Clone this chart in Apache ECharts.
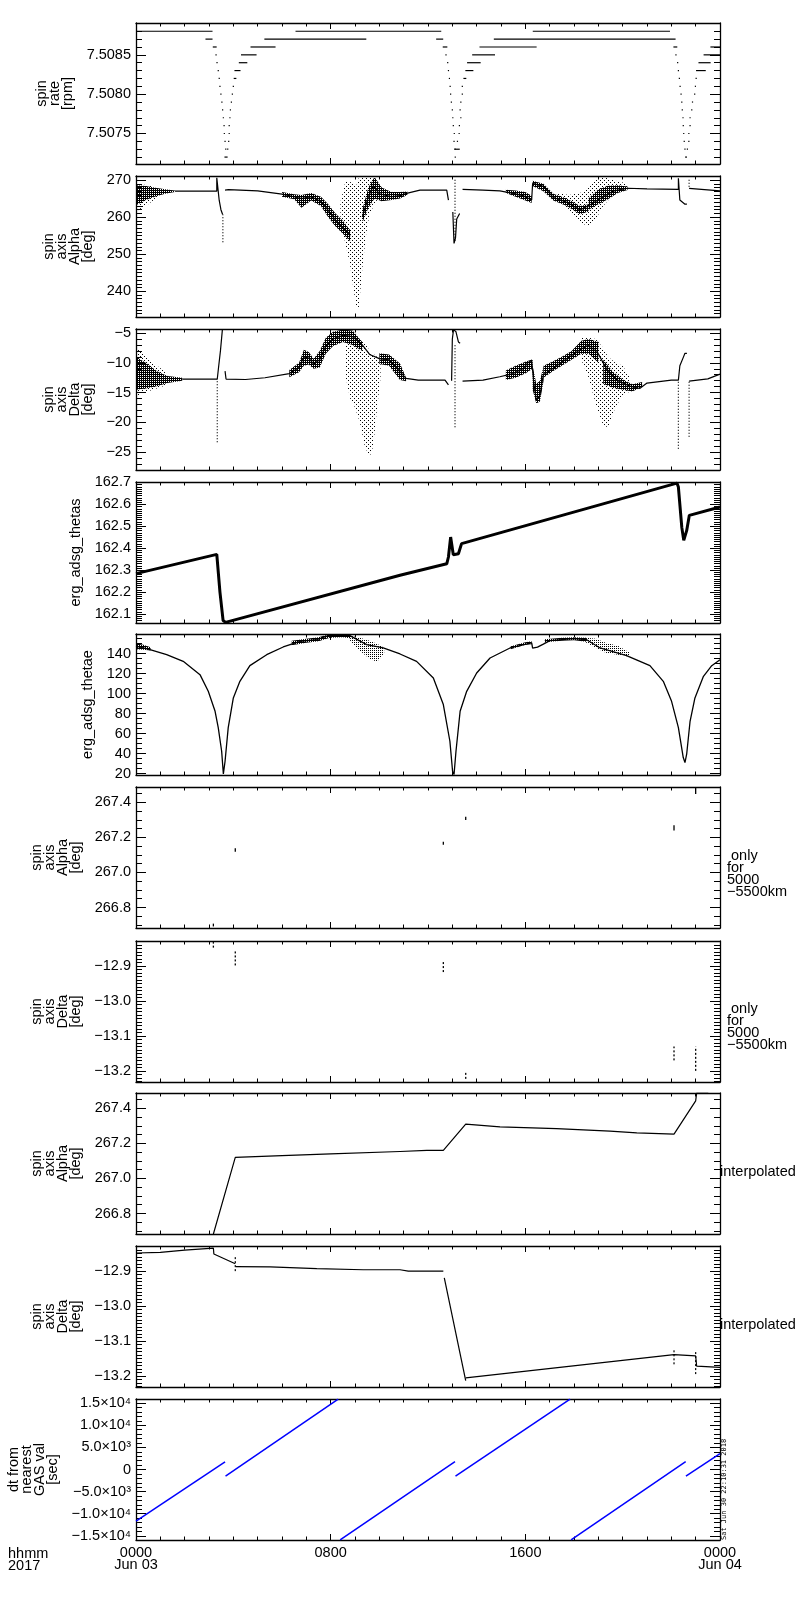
<!DOCTYPE html>
<html>
<head>
<meta charset="utf-8">
<title>ERG spin axis summary</title>
<script src="https://cdn.jsdelivr.net/npm/echarts@6/dist/echarts.min.js"></script>
<style>
  html, body { margin: 0; padding: 0; background: #fff; }
  #main { width: 800px; height: 1600px; }
</style>
</head>
<body>
<div id="main"></div>
<script>
'use strict';
// x values are hours from 2017-06-03 0000
var hourLabels = { 0: '0000\nJun 03', 8: '0800', 16: '1600', 24: '0000\nJun 04' };

// panel 1: spin rate steps [t0, t1, rpm]
var rateSteps = [
  [0.00, 3.12, 7.5088], [2.88, 3.12, 7.5087], [3.18, 3.29, 7.5086], [3.29, 3.29, 7.5085],
  [3.33, 3.33, 7.5084], [3.38, 3.38, 7.5083], [3.42, 3.42, 7.5082], [3.45, 3.45, 7.5081],
  [3.49, 3.49, 7.5080], [3.53, 3.53, 7.5079], [3.56, 3.56, 7.5078], [3.59, 3.59, 7.5077],
  [3.62, 3.62, 7.5076], [3.63, 3.63, 7.5075], [3.66, 3.66, 7.5074], [3.69, 3.69, 7.5073],
  [3.66, 3.74, 7.5072],
  [3.77, 3.77, 7.5073], [3.81, 3.81, 7.5074], [3.83, 3.83, 7.5075], [3.83, 3.83, 7.5076],
  [3.86, 3.86, 7.5077], [3.88, 3.88, 7.5078], [3.92, 3.92, 7.5079], [3.96, 3.96, 7.5080],
  [4.00, 4.00, 7.5081], [4.04, 4.10, 7.5082], [4.07, 4.27, 7.5083], [4.25, 4.55, 7.5084],
  [4.34, 4.93, 7.5085], [4.73, 5.71, 7.5086], [5.30, 9.44, 7.5087], [6.58, 12.52, 7.5088],
  [12.36, 12.60, 7.5087], [12.63, 12.77, 7.5086], [12.74, 12.74, 7.5085], [12.81, 12.81, 7.5084],
  [12.84, 12.84, 7.5083], [12.88, 12.88, 7.5082], [12.91, 12.91, 7.5081], [12.93, 12.93, 7.5080],
  [12.96, 12.96, 7.5079], [13.00, 13.00, 7.5078], [13.02, 13.02, 7.5077], [13.04, 13.04, 7.5076],
  [13.08, 13.08, 7.5075], [13.07, 13.07, 7.5074], [13.11, 13.11, 7.5073], [13.12, 13.12, 7.5072],
  [13.11, 13.28, 7.5073], [13.21, 13.21, 7.5074], [13.28, 13.28, 7.5075], [13.29, 13.29, 7.5076],
  [13.35, 13.35, 7.5077], [13.32, 13.32, 7.5078], [13.35, 13.35, 7.5079], [13.41, 13.41, 7.5080],
  [13.41, 13.41, 7.5081], [13.48, 13.55, 7.5082], [13.56, 13.84, 7.5083], [13.63, 14.14, 7.5084],
  [13.84, 14.73, 7.5085], [14.14, 16.44, 7.5086], [14.73, 22.15, 7.5087], [16.33, 21.92, 7.5088],
  [22.11, 22.22, 7.5086], [22.19, 22.19, 7.5085], [22.26, 22.26, 7.5084], [22.29, 22.29, 7.5083],
  [22.33, 22.33, 7.5082], [22.36, 22.36, 7.5081], [22.40, 22.40, 7.5080], [22.43, 22.43, 7.5079],
  [22.45, 22.45, 7.5078], [22.48, 22.48, 7.5077], [22.49, 22.49, 7.5076], [22.51, 22.51, 7.5075],
  [22.53, 22.53, 7.5074], [22.56, 22.56, 7.5073], [22.59, 22.62, 7.5072],
  [22.66, 22.66, 7.5073], [22.72, 22.72, 7.5074], [22.72, 22.72, 7.5075], [22.77, 22.77, 7.5076],
  [22.77, 22.77, 7.5077], [22.84, 22.84, 7.5078], [22.87, 22.87, 7.5079], [22.96, 22.96, 7.5080],
  [22.99, 22.99, 7.5081], [23.02, 23.02, 7.5082], [23.04, 23.39, 7.5083], [23.14, 23.59, 7.5084],
  [23.35, 24.00, 7.5085], [23.63, 24.00, 7.5086]
];

// panel 2: spin axis alpha
var alphaSegs = [
  [[1.6, 267.0], [3.32, 267.0], [3.32, 270.6], [3.42, 264.5], [3.49, 262.0], [3.56, 260.7]],
  [[3.66, 267.3], [3.72, 267.6], [3.8, 267.4], [5.0, 267.1], [6.0, 266.2], [6.5, 265.5], [6.8, 265.0],
   [7.2, 265.5], [7.6, 264.2], [7.9, 261.8], [8.2, 259.2], [8.5, 257.2], [8.8, 255.0]],
  [[9.3, 260.0], [9.55, 265.5], [9.75, 268.5], [10.0, 266.3], [10.5, 265.5], [10.85, 265.8],
   [11.12, 266.4], [11.67, 267.3], [12.77, 267.3], [12.84, 264.6]],
  [[13.02, 261.4], [13.07, 252.9], [13.13, 254.4], [13.18, 259.5], [13.30, 261.0]],
  [[13.42, 267.5], [14.26, 267.3], [14.95, 267.1], [15.5, 266.4], [15.9, 265.8], [16.26, 264.6],
   [16.3, 269.1], [16.74, 268.3], [17.15, 265.3], [17.7, 264.0], [18.25, 261.9], [18.7, 263.5],
   [19.2, 265.5], [19.6, 267.0], [20.2, 267.8], [21.0, 267.6], [22.29, 267.5], [22.29, 270.5],
   [22.35, 264.6], [22.56, 263.5], [22.64, 263.5]],
  [[22.73, 267.75], [24.0, 267.1]]
];
var alphaDrops = [[3.57, 253.2, 260.7], [13.11, 253.6, 270.5], [22.73, 268.2, 270.5]];
var alphaDense = [
  { t: [0, 0.4, 0.8, 1.2, 1.6], lo: [263.2, 264.6, 265.6, 266.3, 266.8], hi: [268.6, 268.4, 267.9, 267.5, 267.2] },
  { t: [6.0, 6.5, 6.8, 7.2, 7.6, 7.9, 8.2, 8.5, 8.8], lo: [265.5, 264.8, 262.5, 264.5, 263.0, 260.0, 257.5, 255.5, 253.5],
    hi: [266.8, 266.2, 266.0, 266.5, 265.5, 263.5, 261.0, 259.0, 256.5] },
  { t: [9.3, 9.55, 9.8, 10.1, 10.5, 10.85, 11.15], lo: [258.5, 262.5, 265.0, 264.3, 264.6, 265.0, 266.0],
    hi: [262.0, 268.0, 270.8, 268.0, 266.8, 266.8, 266.9] },
  { t: [15.2, 15.6, 16.0, 16.26], lo: [266.5, 265.5, 264.5, 263.8], hi: [267.4, 267.2, 266.8, 265.8] },
  { t: [16.3, 16.74, 17.15, 17.7, 18.25, 18.6], lo: [268.4, 267.0, 264.5, 263.0, 260.8, 261.5],
    hi: [269.8, 269.0, 266.3, 265.0, 263.0, 263.5] },
  { t: [18.6, 19.0, 19.4, 19.8, 20.2], lo: [262.0, 263.5, 264.8, 266.5, 267.3], hi: [265.0, 267.5, 268.5, 268.6, 268.3] }
];
var alphaSparse = [
  { t: [0, 0.5, 1.0], lo: [261.5, 263.5, 266.0], hi: [268.9, 268.7, 267.6] },
  { t: [8.4, 8.6, 8.8, 8.95, 9.05, 9.15, 9.3, 9.45, 9.6, 9.9], lo: [259, 253, 247, 240, 236, 235, 246, 255, 261, 264.5],
    hi: [264, 269.5, 269.5, 269, 268.5, 270.5, 271, 271, 271, 268.5] },
  { t: [17.3, 17.8, 18.25, 18.6, 18.9, 19.2, 19.6, 20.2], lo: [265.0, 262.0, 258.7, 257.4, 259.5, 263.0, 266.0, 267.5],
    hi: [266.5, 266.0, 266.5, 268.0, 270.5, 270.8, 270.0, 269.0] }
];

// panel 3: spin axis delta
var deltaSegs = [
  [[1.9, -12.72], [3.34, -12.72], [3.40, -10.5], [3.47, -8.0], [3.55, -4.44]],
  [[3.66, -11.4], [3.70, -12.72], [4.5, -12.8], [5.3, -12.5], [6.3, -11.8], [6.7, -10.8], [6.9, -9.0],
   [7.1, -9.2], [7.3, -10.2], [7.55, -9.5], [7.8, -7.2], [8.1, -6.0], [8.5, -5.4], [8.9, -5.6],
   [9.3, -7.0], [9.6, -8.6], [10.0, -9.3], [10.4, -9.5], [10.85, -11.5], [11.1, -12.6], [11.6, -12.9],
   [12.7, -12.9], [12.84, -13.7]],
  [[12.97, -13.0], [13.0, -6.0], [13.05, -4.44], [13.15, -4.8], [13.25, -6.5], [13.32, -6.7]],
  [[13.42, -13.06], [14.26, -12.9], [14.95, -12.33], [15.5, -11.8], [15.9, -11.0], [16.1, -10.0],
   [16.26, -9.6], [16.35, -13.5], [16.45, -16.3], [16.6, -15.5], [16.74, -12.0], [17.15, -10.9],
   [17.7, -9.3], [18.25, -7.8], [18.6, -7.0], [19.0, -8.5], [19.4, -11.5], [19.8, -13.0], [20.3, -13.9],
   [20.7, -14.3], [21.0, -13.4], [22.0, -12.9], [22.29, -12.9], [22.35, -10.5], [22.5, -9.0],
   [22.56, -8.4], [22.64, -8.4]],
  [[22.73, -13.06], [23.5, -12.7], [24, -11.9]]
];
var deltaDrops = [[3.34, -23.3, -12.72], [13.11, -20.8, -6.7], [22.29, -24.4, -13.06], [22.73, -22.4, -13.06]];
var deltaDense = [
  { t: [0, 0.4, 0.9, 1.3, 1.9], lo: [-14.5, -14.3, -13.9, -13.4, -13.0], hi: [-9.0, -10.0, -11.5, -12.2, -12.5] },
  { t: [6.3, 6.7, 6.9, 7.1, 7.3, 7.55, 7.8, 8.1, 8.5, 8.9, 9.3],
    lo: [-12.4, -11.6, -10.5, -10.3, -11.0, -10.8, -8.5, -7.2, -6.5, -7.0, -8.0],
    hi: [-11.2, -10.0, -7.8, -8.2, -9.3, -8.0, -5.8, -4.8, -4.4, -4.6, -6.5] },
  { t: [10.0, 10.4, 10.85, 11.1], lo: [-10.2, -10.5, -12.9, -13.1], hi: [-8.4, -8.6, -10.1, -12.5] },
  { t: [15.2, 15.6, 16.0, 16.3], lo: [-12.9, -12.5, -11.8, -11.0], hi: [-11.3, -10.5, -9.8, -9.4] },
  { t: [16.3, 16.45, 16.6, 16.75], lo: [-14.5, -16.8, -16.5, -13.0], hi: [-10.5, -13.5, -13.0, -10.5] },
  { t: [16.75, 17.1, 17.5, 17.9, 18.3, 18.6, 19.0], lo: [-12.5, -11.5, -10.5, -9.5, -8.5, -8.5, -10.0],
    hi: [-10.5, -9.8, -9.0, -8.0, -6.3, -6.0, -6.5] },
  { t: [19.2, 19.6, 20.0, 20.4, 20.8], lo: [-13.5, -14.2, -14.5, -14.8, -14.0], hi: [-9.5, -11.5, -12.8, -13.6, -13.2] }
];
var deltaSparse = [
  { t: [0, 0.3, 0.7, 1.2], lo: [-15.6, -15.0, -14.5, -13.8], hi: [-7.5, -8.5, -10.0, -11.5] },
  { t: [8.6, 8.8, 9.0, 9.2, 9.4, 9.6, 9.75, 9.9, 10.05], lo: [-12, -16, -17.5, -20, -24, -25.8, -24, -18, -12.5],
    hi: [-5.5, -5.5, -5.5, -6, -6.5, -8, -8.5, -9, -9.5] },
  { t: [18.3, 18.6, 18.9, 19.2, 19.4, 19.7, 20.0, 20.3], lo: [-9.5, -12.5, -17, -20.5, -20.8, -17.5, -15.5, -14.8],
    hi: [-5.6, -5.8, -6.0, -7.5, -9.0, -10.0, -10.5, -12.5] }
];

// panel 4: erg_adsg_thetas
var thetasLine = [
  [0, 162.284], [3.32, 162.372], [3.45, 162.20], [3.58, 162.07], [3.68, 162.062], [10.85, 162.277],
  [12.77, 162.329], [12.84, 162.36], [12.93, 162.451], [13.04, 162.37], [13.25, 162.375],
  [13.38, 162.421], [22.23, 162.697], [22.29, 162.679], [22.43, 162.495], [22.51, 162.436],
  [22.63, 162.48], [22.74, 162.55], [24, 162.588]
];

// panel 5: erg_adsg_thetae
var thetaeLine = [
  [0, 147.5], [0.575, 144], [1.26, 139], [1.94, 132.3], [2.63, 119], [2.97, 102.3], [3.25, 82.3],
  [3.38, 66], [3.52, 42.3], [3.59, 19.5], [3.66, 32.3], [3.79, 66], [4.0, 95.7], [4.27, 112.3],
  [4.68, 128], [5.37, 139], [6.05, 146.7], [6.74, 152.3], [7.43, 154], [7.97, 158.5], [8.79, 158],
  [9.48, 149], [10.16, 145.7], [10.85, 139.7], [11.53, 132.3], [12.22, 115.7], [12.63, 89],
  [12.90, 52.3], [13.01, 22.3], [13.07, 19], [13.15, 42.3], [13.32, 82.3], [13.59, 102.3],
  [14.0, 120.7], [14.55, 135.7], [15.37, 145.7], [16.26, 150.7], [16.3, 145.5], [16.5, 146.5],
  [16.74, 149.5], [17.01, 153], [17.97, 155], [18.52, 154], [19.07, 145.7], [20.16, 138],
  [21.12, 128], [21.67, 112.3], [22.01, 92.3], [22.29, 66], [22.49, 36], [22.56, 31], [22.63, 39.3],
  [22.77, 72.3], [22.97, 95.7], [23.32, 117.3], [23.66, 128], [24, 134]
];
var thetaeDense = [
  { t: [0, 0.3, 0.6], lo: [144.5, 144.0, 143.2], hi: [150.5, 149.0, 146.5] },
  { t: [6.4, 7.0, 7.5, 7.97, 8.5, 8.8], lo: [148.5, 151.0, 152.5, 156.0, 156.5, 155.5], hi: [153.0, 155.0, 156.5, 159.7, 159.7, 159.0] },
  { t: [15.4, 16.0, 16.26], lo: [144.5, 149.0, 149.5], hi: [147.5, 151.5, 152.5] },
  { t: [16.8, 17.5, 18.0, 18.5], lo: [151.5, 153.0, 153.5, 152.0], hi: [154.5, 156.0, 156.5, 156.0] }
];
var thetaeSparse = [
  { t: [8.8, 9.2, 9.6, 9.9, 10.2], lo: [153, 143, 135, 132, 140], hi: [158, 156, 153, 150, 146] },
  { t: [18.5, 18.9, 19.3, 19.8, 20.3], lo: [151, 146, 141, 139, 137], hi: [156, 155, 151, 148, 141] }
];

// panels 6, 7: values only for 5000-5500 km [t, v0, v1]
var alphaOnly = [[3.18, 266.692, 266.708], [4.08, 267.118, 267.138], [12.63, 267.158, 267.175],
  [13.55, 267.300, 267.318], [22.11, 267.240, 267.270], [23.0, 267.448, 267.482]];
var deltaOnly = [[3.18, -12.847, -12.831], [4.08, -12.898, -12.855], [12.63, -12.917, -12.884],
  [13.55, -13.223, -13.200], [22.11, -13.170, -13.130], [23.0, -13.200, -13.130]];

// panels 8, 9: interpolated
var alphaInterp = [
  [3.18, 266.683], [4.08, 267.12], [6.0, 267.13], [8.0, 267.14], [10.85, 267.154], [11.95, 267.16],
  [12.63, 267.16], [13.55, 267.31], [14.96, 267.295], [17.28, 267.285], [19.48, 267.27],
  [20.58, 267.26], [22.11, 267.253], [23.0, 267.443], [23.04, 267.487], [23.52, 267.487]
];
var deltaInterp = [
  [[0, -12.848], [1.0, -12.846], [2.0, -12.840], [3.18, -12.834], [3.20, -12.851], [4.08, -12.879]],
  [[4.10, -12.887], [5.51, -12.888], [7.43, -12.893], [9.34, -12.896], [10.85, -12.896], [11.19, -12.9], [12.63, -12.9]],
  [[12.67, -12.919], [13.55, -13.214]],
  [[13.55, -13.206], [22.11, -13.139], [23.0, -13.143], [23.04, -13.172], [24.0, -13.176]]
];
var deltaInterpTicks = [[4.08, -12.900, -12.856], [22.11, -13.167, -13.125], [23.0, -13.195, -13.129]];

// panel 10: dt from nearest GAS value [sec]
var dtSegs = [
  [[0, -11700], [3.66, 1700]],
  [[3.68, -1500], [8.31, 15900]],
  [[8.39, -15900], [13.11, 1800]],
  [[13.13, -1500], [17.84, 15900]],
  [[17.88, -15900], [22.59, 1800]],
  [[22.60, -1500], [24.0, 3600]]
];

var FONT = '"Liberation Sans", Arial, sans-serif';

function minus(s) { return String(s).replace('-', '\u2212'); }
var SUP = { '0': '\u2070', '1': '\u00b9', '2': '\u00b2', '3': '\u00b3', '4': '\u2074', '5': '\u2075', '6': '\u2076', '7': '\u2077', '8': '\u2078', '9': '\u2079' };
function sci(v) {
  if (Math.abs(v) < 1e-6) return '0';
  var e = Math.floor(Math.log10(Math.abs(v)) + 1e-9);
  var m = v / Math.pow(10, e);
  return minus(m.toFixed(1)) + '\u00d710' + String(e).split('').map(function (c) { return SUP[c]; }).join('');
}
function fInt(v) { return minus(Math.round(v)); }
function f1(v) { return minus(v.toFixed(1)); }
function f4(v) { return v.toFixed(4); }

// dotted textures standing in for the scatter clouds
function dots(size, px) {
  var c = document.createElement('canvas');
  c.width = size; c.height = size;
  var g = c.getContext('2d');
  g.fillStyle = '#000';
  px.forEach(function (p) { g.fillRect(p[0], p[1], 1, 1); });
  return { image: c, repeat: 'repeat' };
}
var denseFill = dots(2, [[0, 0], [1, 1], [1, 0]]);
var midFill = dots(2, [[0, 0]]);
var sparseFill = dots(4, [[0, 0], [2, 2]]);

var panels = [
  { top: 23, name: 'spin\nrate\n[rpm]', min: 7.507112, max: 7.508905, step: 0.0005, minor: 5, gap: 58, fmt: f4 },
  { top: 176, name: 'spin\naxis\nAlpha\n[deg]', min: 233.05, max: 271.1, step: 10, minor: 10, gap: 39, fmt: fInt },
  { top: 329, name: 'spin\naxis\nDelta\n[deg]', min: -27.97, max: -4.33, step: 5, minor: 5, gap: 39, fmt: fInt },
  { top: 482, name: 'erg_adsg_thetas', min: 162.059, max: 162.702, step: 0.1, minor: 10, gap: 53, fmt: f1 },
  { top: 634, name: 'erg_adsg_thetae', min: 18.5, max: 159.7, step: 20, minor: 4, gap: 39, fmt: fInt },
  { top: 787, name: 'spin\naxis\nAlpha\n[deg]', min: 266.683, max: 267.488, step: 0.2, minor: 4, gap: 50, fmt: f1 },
  { top: 941, name: 'spin\naxis\nDelta\n[deg]', min: -13.232, max: -12.828, step: 0.1, minor: 10, gap: 52, fmt: f1 },
  { top: 1093, name: 'spin\naxis\nAlpha\n[deg]', min: 266.683, max: 267.488, step: 0.2, minor: 4, gap: 50, fmt: f1 },
  { top: 1246, name: 'spin\naxis\nDelta\n[deg]', min: -13.232, max: -12.828, step: 0.1, minor: 10, gap: 52, fmt: f1 },
  { top: 1399, name: 'dt from\nnearest\nGAS val\n[sec]', min: -15950, max: 15950, step: 5000, minor: 5, gap: 74, fmt: sci }
];
var N = panels.length;

var lineCol = { color: '#000', width: 1.3 };
var grids = [], xAxes = [], yAxes = [], series = [];

panels.forEach(function (p) {
  grids.push({ left: 136, width: 584, top: p.top, height: 141, outerBoundsMode: 'none' });
});
[false, true].forEach(function (isTop) {
  panels.forEach(function (p, i) {
    var showLab = !isTop && i === N - 1;
    xAxes.push({
      type: 'value', gridIndex: i, position: isTop ? 'top' : 'bottom',
      min: 0, max: 24, interval: 8,
      axisLine: { show: true, onZero: false, lineStyle: lineCol },
      axisTick: { show: true, inside: true, length: 6, lineStyle: { color: '#000' } },
      minorTick: { show: true, splitNumber: 8, length: 3.5, lineStyle: { color: '#000' } },
      splitLine: { show: false },
      axisLabel: showLab ? {
        show: true, margin: 7, fontSize: 14.5, lineHeight: 12, color: '#000', fontFamily: FONT,
        showMinLabel: true, showMaxLabel: true,
        formatter: function (v) { return hourLabels[Math.round(v)] || ''; }
      } : { show: false }
    });
  });
});
[false, true].forEach(function (isRight) {
  panels.forEach(function (p, i) {
    var ax = {
      type: 'value', gridIndex: i, position: isRight ? 'right' : 'left',
      min: p.min, max: p.max, minInterval: p.step, maxInterval: p.step,
      splitNumber: Math.round((p.max - p.min) / p.step),
      axisLine: { show: true, onZero: false, lineStyle: lineCol },
      axisTick: { show: true, inside: true, length: 10, lineStyle: { color: '#000' } },
      minorTick: { show: true, splitNumber: p.minor, length: 6, lineStyle: { color: '#000' } },
      splitLine: { show: false },
      axisLabel: isRight ? { show: false } : {
        show: true, margin: 5, fontSize: 14.5, color: '#000', fontFamily: FONT,
        showMinLabel: false, showMaxLabel: false, formatter: p.fmt
      }
    };
    if (!isRight) {
      ax.name = p.name;
      ax.nameLocation = 'middle';
      ax.nameRotate = 90;
      ax.nameGap = p.gap;
      ax.nameTextStyle = { fontSize: 14.5, lineHeight: 13, color: '#000', fontFamily: FONT };
    }
    yAxes.push(ax);
  });
});

function lineSeries(i, data, width, color) {
  return {
    type: 'line', xAxisIndex: i, yAxisIndex: i, data: data, symbol: 'none', silent: true,
    lineStyle: { color: color || '#000', width: width }, z: 5
  };
}
function bandSeries(i, band, fill) {
  return {
    type: 'custom', xAxisIndex: i, yAxisIndex: i, clip: true, silent: true, z: 2,
    data: band.t.map(function (t, k) { return [t, band.lo[k], band.hi[k]]; }),
    encode: { x: 0, y: [1, 2] },
    renderItem: function (params, api) {
      if (params.dataIndex !== 0) return null;
      var pts = [];
      band.t.forEach(function (t, k) { pts.push(api.coord([t, band.lo[k]])); });
      for (var k = band.t.length - 1; k >= 0; k--) pts.push(api.coord([band.t[k], band.hi[k]]));
      return { type: 'polygon', shape: { points: pts }, style: { fill: fill } };
    }
  };
}
function vSeries(i, data, dash, width) {
  return {
    type: 'custom', xAxisIndex: i, yAxisIndex: i, clip: true, silent: true, z: 4,
    data: data, encode: { x: 0, y: [1, 2] },
    renderItem: function (params, api) {
      var a = api.coord([api.value(0), api.value(1)]);
      var b = api.coord([api.value(0), api.value(2)]);
      return {
        type: 'line', shape: { x1: a[0], y1: a[1], x2: b[0], y2: b[1] },
        style: { stroke: '#000', lineWidth: width || 1.2, lineDash: dash || null }
      };
    }
  };
}
function stepSeries(i, data) {
  return {
    type: 'custom', xAxisIndex: i, yAxisIndex: i, clip: true, silent: true, z: 4,
    data: data, encode: { x: [0, 1], y: 2 },
    renderItem: function (params, api) {
      var a = api.coord([api.value(0), api.value(2)]);
      var b = api.coord([api.value(1), api.value(2)]);
      return {
        type: 'rect',
        shape: { x: a[0] - 0.6, y: a[1] - 0.6, width: Math.max(b[0] - a[0], 0) + 1.2, height: 1.2 },
        style: { fill: '#000' }
      };
    }
  };
}

// panel 1
series.push(stepSeries(0, rateSteps));
// panel 2
alphaSparse.forEach(function (b) { series.push(bandSeries(1, b, sparseFill)); });
alphaDense.forEach(function (b) { series.push(bandSeries(1, b, denseFill)); });
alphaSegs.forEach(function (s) { series.push(lineSeries(1, s, 1.2)); });
series.push(vSeries(1, alphaDrops, [1, 2]));
// panel 3
deltaSparse.forEach(function (b) { series.push(bandSeries(2, b, sparseFill)); });
deltaDense.forEach(function (b) { series.push(bandSeries(2, b, denseFill)); });
deltaSegs.forEach(function (s) { series.push(lineSeries(2, s, 1.2)); });
series.push(vSeries(2, deltaDrops, [1, 2]));
// panel 4
series.push(lineSeries(3, thetasLine, 3));
// panel 5
thetaeSparse.forEach(function (b) { series.push(bandSeries(4, b, midFill)); });
thetaeDense.forEach(function (b) { series.push(bandSeries(4, b, denseFill)); });
series.push(lineSeries(4, thetaeLine, 1.3));
// panels 6, 7
series.push(vSeries(5, alphaOnly, null, 1.3));
series.push(vSeries(6, deltaOnly, [2, 2], 1.3));
// panels 8, 9
series.push(lineSeries(7, alphaInterp, 1.2));
deltaInterp.forEach(function (s) { series.push(lineSeries(8, s, 1.2)); });
series.push(vSeries(8, deltaInterpTicks, [2, 2], 1.2));
// panel 10
dtSegs.forEach(function (s) { series.push(lineSeries(9, s, 1.5, '#0000ff')); });

function noteText(x, y, text) {
  return { type: 'text', left: x, top: y, style: { text: text, fontSize: 14.5, lineHeight: 12, fill: '#000', fontFamily: FONT } };
}

var option = {
  animation: false,
  backgroundColor: '#fff',
  grid: grids,
  xAxis: xAxes,
  yAxis: yAxes,
  series: series,
  graphic: [
    noteText(8, 1546, 'hhmm\n2017'),
    noteText(727, 848, ' only\nfor\n5000\n\u22125500km'),
    noteText(727, 1001, ' only\nfor\n5000\n\u22125500km'),
    noteText(720, 1164, 'interpolated'),
    noteText(720, 1317, 'interpolated'),
    {
      type: 'text', x: 728, y: 1540, rotation: Math.PI / 2,
      style: { text: 'Sat Jun 30 22:10:31 2018', fontSize: 7, fill: '#000', fontFamily: '"DejaVu Sans Mono", monospace', textVerticalAlign: 'bottom' }
    }
  ]
};

var myChart = echarts.init(document.getElementById('main'));
myChart.setOption(option);
</script>
</body>
</html>
